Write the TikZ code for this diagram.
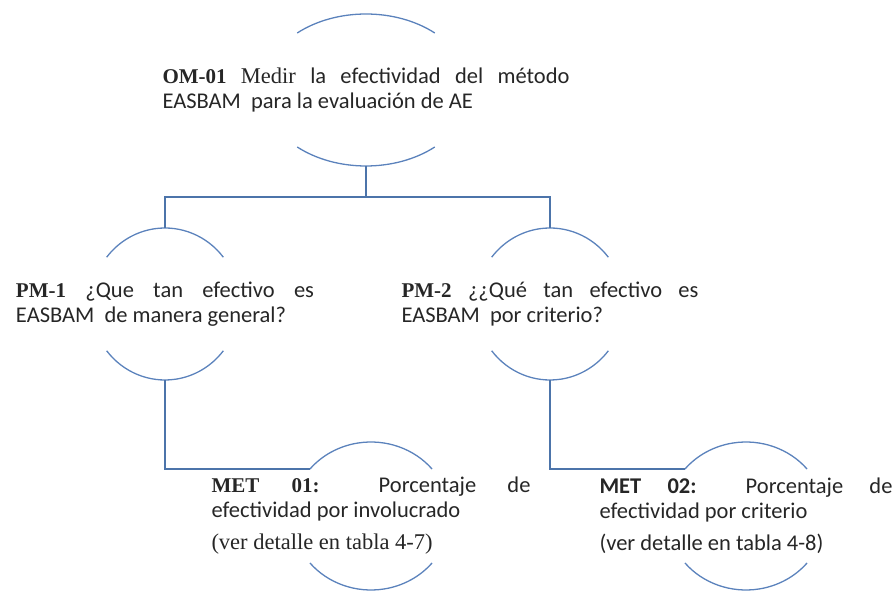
\documentclass[tikz,border=0pt]{standalone}
\usepackage{fontspec}
\setmainfont{Liberation Serif}
\setsansfont{Carlito}
\usetikzlibrary{shapes,positioning}
\definecolor{arcblue}{RGB}{91,130,188}
\definecolor{lineblue}{RGB}{76,116,170}
\setlength{\parindent}{0pt}

% serif pieces of the labels
\newcommand{\tm}[1]{{\rmfamily\fontsize{22.5}{25}\selectfont #1}}
\newcommand{\tmb}[1]{{\rmfamily\bfseries\fontsize{21}{25}\selectfont #1}}
% two caps of an ellipse round a node: node, x radius, y radius, angle
\newcommand{\caparcs}[4]{%
  \draw[caparc] ([shift={(#4:#2 and #3)}]#1.center) arc[start angle=#4, end angle=180-#4, x radius=#2, y radius=#3];
  \draw[caparc] ([shift={(180+#4:#2 and #3)}]#1.center) arc[start angle=180+#4, end angle=360-#4, x radius=#2, y radius=#3];
}

\begin{document}
\begin{tikzpicture}[x=1pt, y=1pt, font=\sffamily\fontsize{22.5}{25}\selectfont]
            \tikzstyle{ring} = [ellipse, inner sep=0pt, outer sep=0pt]
            \tikzstyle{caparc} = [draw=arcblue, line width=1.3pt]
            \tikzstyle{conn} = [draw=lineblue, line width=2pt]
            \tikzstyle{txt} = [inner sep=0pt, align=justify, text=black!85]

            \useasboundingbox (0,0) rectangle (896,591);

            \node [ring, minimum width=208pt, minimum height=152pt] (om) at (366,501) {};
            \node [ring, minimum width=148pt, minimum height=152pt] (pm1) at (165,287) {};
            \node [ring, minimum width=148pt, minimum height=152pt] (pm2) at (550,287) {};
            \node [ring, minimum width=158pt, minimum height=148pt] (met1) at (371,75) {};
            \node [ring, minimum width=158pt, minimum height=148pt] (met2) at (746,75) {};

            \caparcs{om}{104pt}{76pt}{48.6}
            \caparcs{pm1}{74pt}{76pt}{38}
            \caparcs{pm2}{74pt}{76pt}{38}
            \caparcs{met1}{79pt}{74pt}{39.4}
            \caparcs{met2}{79pt}{74pt}{39.4}

            \node [txt, text width=407pt] (omtxt) at (om) {\tmb{OM-01} \tm{Medir} la efectividad del método\linebreak EASBAM\ \ para la evaluación de AE};
            \node [txt, text width=298pt] (pm1txt) at (pm1) {\tmb{PM-1} ¿Que tan efectivo es\linebreak EASBAM\ \ de manera general?};
            \node [txt, text width=297pt] (pm2txt) at (pm2) {\tmb{PM-2} ¿¿Qué tan efectivo es\linebreak EASBAM\ \ por criterio?};
            \node [txt, text width=319pt] (met1txt) at (met1) {\tmb{MET 01:} Porcentaje de\linebreak efectividad por involucrado\par\vspace{7pt}\tm{(ver detalle en tabla 4-7)}};
            \node [txt, text width=293pt] (met2txt) at (met2) {\textbf{MET 02:} Porcentaje de\linebreak efectividad por criterio\par\vspace{7pt}(ver detalle en tabla 4-8)};

            \coordinate (split) at (366,394);
            \draw [conn] (om.south) -- (split);
            \draw [conn] (split) -| (pm1.north);
            \draw [conn] (split) -| (pm2.north);
            \draw [conn] (pm1.south) |- (met1.142.4);
            \draw [conn] (pm2.south) |- (met2.142.4);
        \end{tikzpicture}
\end{document}
